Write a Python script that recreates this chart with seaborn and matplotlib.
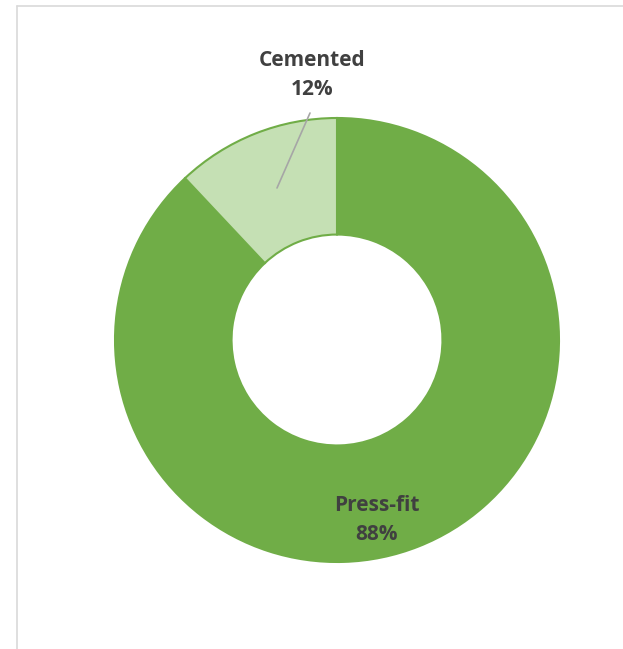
import matplotlib
matplotlib.use("Agg")
import matplotlib.pyplot as plt
from matplotlib.lines import Line2D
import seaborn as sns

labels = ["Press-fit", "Cemented"]
shares = [88, 12]
colors = ["#70ad47", "#c5e0b4"]

sns.set_theme(style="white")
plt.rcParams["font.family"] = ["Open Sans", "DejaVu Sans"]

W, H = 623, 649
fig = plt.figure(figsize=(W / 100, H / 100), dpi=100)
fig.patch.set_facecolor("white")

# chart frame (left and top edge visible)
fig.add_artist(Line2D([17 / W, 17 / W], [0, 1 - 6 / H], color="#d9d9d9", lw=1.2))
fig.add_artist(Line2D([17 / W, 1], [1 - 6 / H, 1 - 6 / H], color="#d9d9d9", lw=1.2))

cx, cy, r = 337, 340, 222
ax = fig.add_axes([(cx - r) / W, (H - cy - r) / H, 2 * r / W, 2 * r / H])
ax.pie(shares, colors=colors, startangle=90, counterclock=False, radius=1,
       wedgeprops=dict(width=0.525, edgecolor="#70ad47", linewidth=1.5))
ax.set_xlim(-1, 1)
ax.set_ylim(-1, 1)
ax.set_aspect("equal")
ax.axis("off")


def d(px, py):
    return (px - cx) / r, (cy - py) / r


# leader line for the small slice
x0, y0 = d(310, 113)
x1, y1 = d(277, 188)
ax.plot([x0, x1], [y0, y1], color="#a6a6a6", lw=1.2, clip_on=False)

tx, ty = d(312, 75)
ax.text(tx, ty, f"{labels[1]}\n{shares[1]}%", ha="center", va="center",
        fontsize=15, fontweight="bold", color="#404040", linespacing=1.5)
tx, ty = d(377, 520)
ax.text(tx, ty, f"{labels[0]}\n{shares[0]}%", ha="center", va="center",
        fontsize=15, fontweight="bold", color="#404040", linespacing=1.5)

fig.savefig("out.png", dpi=100)
